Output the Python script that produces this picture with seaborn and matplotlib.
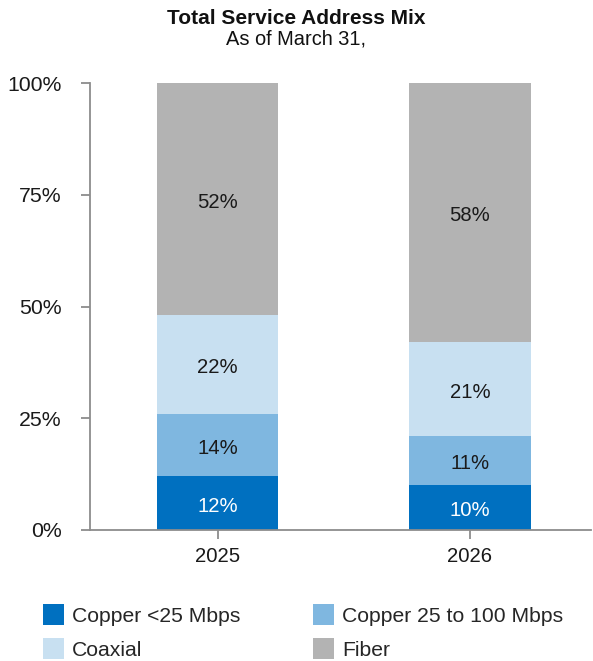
import matplotlib
matplotlib.use("Agg")
import matplotlib.pyplot as plt
import seaborn as sns
import pandas as pd
from matplotlib.patches import Patch
from matplotlib.ticker import FuncFormatter

# Share of total service addresses by technology, as of March 31
years = ["2025", "2026"]
copper_lt25 = [12, 10]
copper_25_100 = [14, 11]
coaxial = [22, 21]
fiber = [52, 58]

series_names = ["Copper <25 Mbps", "Copper 25 to 100 Mbps", "Coaxial", "Fiber"]
series_values = [copper_lt25, copper_25_100, coaxial, fiber]
series_colors = ["#0070C0", "#7FB7E0", "#C8E0F1", "#B3B3B3"]
label_colors = ["white", "#1a1a1a", "#1a1a1a", "#1a1a1a"]

y_ticks = [0, 25, 50, 75, 100]

sns.set_theme(style="white")
plt.rcParams["font.family"] = ["Liberation Sans", "DejaVu Sans"]

fig = plt.figure(figsize=(5.93, 6.61), dpi=100)
ax = fig.add_axes([0.1518, 0.1982, 0.845, 0.6762])

bottoms = [0] * len(years)
for name, vals, col, tcol in zip(series_names, series_values, series_colors, label_colors):
    df = pd.DataFrame({"year": years, "share": vals})
    sns.barplot(data=df, x="year", y="share", color=col, width=0.48,
                bottom=bottoms, linewidth=0, ax=ax, saturation=1)
    cont = ax.containers[-1]
    ax.bar_label(cont, labels=[f"{v}%" for v in vals], label_type="center",
                 padding=-2.2, fontsize=14.6, color=tcol)
    bottoms = [b + v for b, v in zip(bottoms, vals)]

ax.set_ylim(0, 100)
ax.set_xlim(-0.506, 1.48)
ax.set_yticks(y_ticks)
ax.yaxis.set_major_formatter(FuncFormatter(lambda v, p: f"{v:.0f}%"))
ax.set_xlabel("")
ax.set_ylabel("")

for s in ["top", "right"]:
    ax.spines[s].set_visible(False)
for s in ["left", "bottom"]:
    ax.spines[s].set_color("#8c8c8c")
    ax.spines[s].set_linewidth(1.3)

ax.tick_params(axis="y", which="major", left=True, length=6.5, width=1.3,
               color="#8c8c8c", pad=13.7, labelsize=15.3, labelcolor="#1a1a1a")
ax.tick_params(axis="x", which="major", bottom=True, length=6.5, width=1.3,
               color="#8c8c8c", pad=6, labelsize=14.6, labelcolor="#1a1a1a")
ax.grid(False)

fig.text(0.5, 0.9725, "Total Service Address Mix", ha="center", va="center",
         fontsize=15, fontweight="bold", color="#111111")
fig.text(0.5, 0.9405, "As of March 31,", ha="center", va="center",
         fontsize=14.4, color="#111111")

handles = [Patch(facecolor=c, edgecolor="none") for c in series_colors]
order = [0, 2, 1, 3]
fig.legend([handles[i] for i in order], [series_names[i] for i in order],
           ncol=2, loc="upper left", bbox_to_anchor=(0.072, 0.086),
           frameon=False, fontsize=15.2, handlelength=1.0, handleheight=1.15,
           handletextpad=0.38, columnspacing=3.45, labelspacing=0.6,
           borderpad=0, borderaxespad=0)

fig.savefig("out.png", dpi=100, facecolor="white")
